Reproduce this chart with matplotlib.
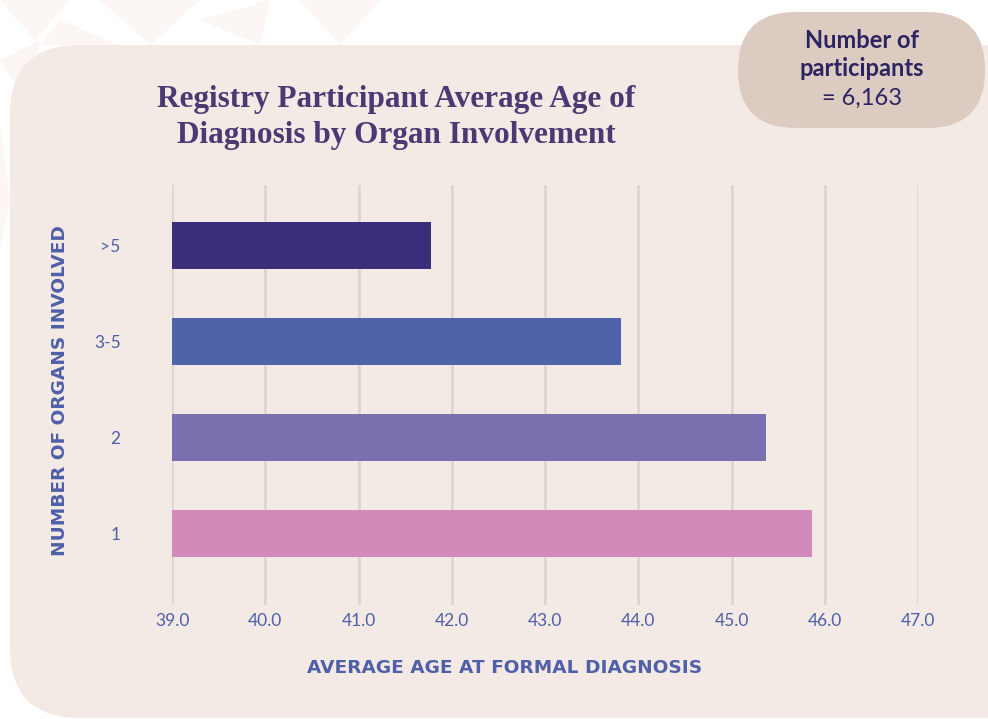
import matplotlib
matplotlib.use("Agg")
import matplotlib.pyplot as plt
from matplotlib.patches import FancyBboxPatch, Polygon

# data
categories = ["1", "2", "3-5", ">5"]
avg_age = [45.86, 45.37, 43.82, 41.78]
bar_colors = ["#d28aba", "#7a6faf", "#4f63a8", "#3a2e7a"]
xticks = [39.0, 40.0, 41.0, 42.0, 43.0, 44.0, 45.0, 46.0, 47.0]

W, H = 988, 719
fig = plt.figure(figsize=(W / 100, H / 100), dpi=100)
fig.patch.set_facecolor("white")

# faint decorative triangles top-left
bg = fig.add_axes([0, 0, 1, 1])
bg.set_xlim(0, W)
bg.set_ylim(H, 0)
bg.axis("off")
tris = [
    [(0, 0), (70, 0), (35, 40)],
    [(100, 0), (200, 0), (150, 45)],
    [(0, 60), (40, 40), (30, 110)],
    [(200, 20), (270, 0), (260, 45)],
    [(300, 0), (380, 0), (340, 45)],
    [(0, 120), (10, 200), (0, 250)],
    [(60, 20), (120, 45), (40, 45)],
]
for t in tris:
    bg.add_patch(Polygon(t, closed=True, facecolor="#fcf7f5", edgecolor="none"))

# main panel
bg.add_patch(FancyBboxPatch((10, 45), 1100, 673,
                            boxstyle="round,pad=0,rounding_size=70",
                            facecolor="#f3e9e5", edgecolor="none"))
# participants pill
bg.add_patch(FancyBboxPatch((738, 12), 247, 116,
                            boxstyle="round,pad=0,rounding_size=58",
                            facecolor="#dccbc0", edgecolor="none"))
bg.text(862, 41, "Number of", ha="center", va="center", fontsize=17,
        fontweight="bold", color="#2b2461", family="Lato")
bg.text(862, 69, "participants", ha="center", va="center", fontsize=17,
        fontweight="bold", color="#2b2461", family="Lato")
bg.text(862, 98, "= 6,163", ha="center", va="center", fontsize=17,
        color="#2b2461", family="Lato")

# title
bg.text(396, 100, "Registry Participant Average Age of", ha="center", va="center",
        fontsize=22.5, fontweight="bold", color="#4a3a73", family="Liberation Serif")
bg.text(396, 135, "Diagnosis by Organ Involvement", ha="center", va="center",
        fontsize=22.5, fontweight="bold", color="#4a3a73", family="Liberation Serif")

# chart axes
x0, x1, y0, y1 = 172, 918, 185, 605
ax = fig.add_axes([x0 / W, 1 - y1 / H, (x1 - x0) / W, (y1 - y0) / H])
ax.set_facecolor("none")
ypos = list(range(len(categories)))
ax.barh(ypos, [a - 39 for a in avg_age], left=39, height=0.49,
        color=bar_colors, zorder=3)
ax.set_xlim(39, 47)
ax.set_ylim(-0.74, 3.635)
ax.set_xticks(xticks)
ax.set_xticklabels([f"{v:.1f}" for v in xticks])
ax.set_yticks(ypos)
ax.set_yticklabels(categories)
for v in xticks:
    ax.axvline(v, color="#e0d3d3", lw=2, zorder=1)
for s in ax.spines.values():
    s.set_visible(False)
ax.tick_params(length=0, colors="#4f5fa8", labelsize=12.5)
ax.tick_params(axis="x", pad=6)
ax.tick_params(axis="y", pad=37)
for lab in ax.get_xticklabels() + ax.get_yticklabels():
    lab.set_family("Lato")

bg.text(505, 668, "AVERAGE AGE AT FORMAL DIAGNOSIS", ha="center", va="center",
        fontsize=13.3, fontweight="bold", color="#4f5fa8", family="DejaVu Sans")
bg.text(60, 391, "NUMBER OF ORGANS INVOLVED", ha="center", va="center",
        rotation=90, fontsize=13.3, fontweight="bold", color="#4f5fa8",
        family="DejaVu Sans")

fig.savefig("out.png", dpi=100, facecolor="white")
